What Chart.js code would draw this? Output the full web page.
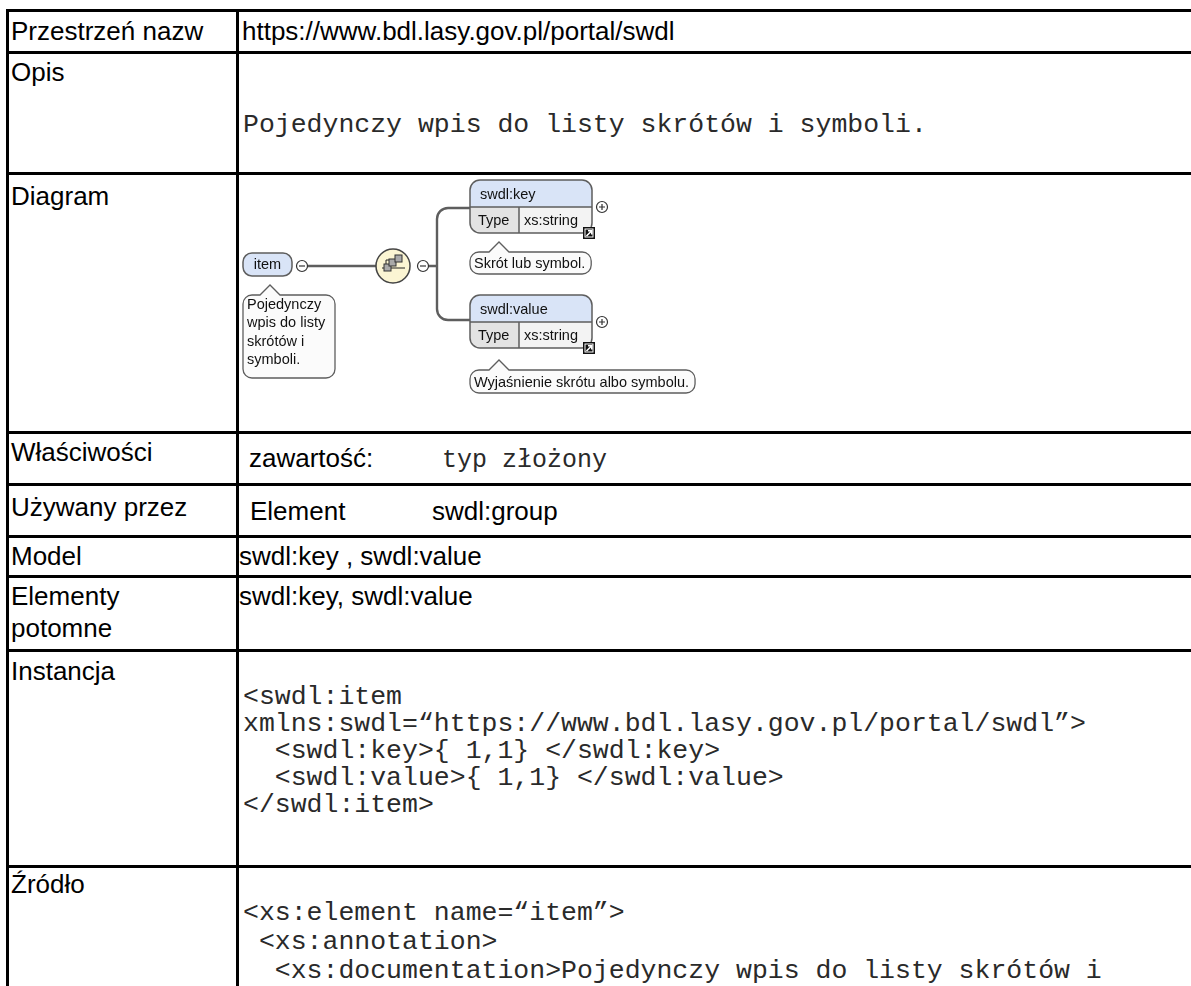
<!DOCTYPE html>
<html lang="pl">
<head>
<meta charset="utf-8">
<title>swdl:item</title>
<script src="https://cdn.jsdelivr.net/npm/chart.js@4.4.1/dist/chart.umd.min.js"></script>
<style>
  html, body { margin: 0; padding: 0; background: #fff; }
  body { width: 1191px; height: 986px; overflow: hidden; position: relative; }
  .hl, .vl { position: absolute; background: #000; }
  .t { position: absolute; white-space: pre; color: #000; margin: 0; }
  .sans { font-family: "Liberation Sans", Arial, sans-serif; font-size: 26px; line-height: 26px; }
  .mono { font-family: "Liberation Mono", "Courier New", monospace; font-size: 26.5px; line-height: 26.5px; color: #2a2a2a; }
  .mono25 { font-family: "Liberation Mono", "Courier New", monospace; font-size: 25px; line-height: 25px; color: #2a2a2a; }
  #diagram { position: absolute; left: 239px; top: 175px; }
</style>
</head>
<body>
<canvas id="diagram" width="700" height="256"></canvas>
<script>
// table grid (centre of each ruling, px)
const rowLines = [10, 52, 173, 432.5, 484, 536.5, 576.5, 650, 866.5];
const colLines = [7, 237.5];

// left column
const rowLabels = ['Przestrzeń nazw', 'Opis', 'Diagram', 'Właściwości', 'Używany przez',
    'Model', 'Elementy', 'potomne', 'Instancja', 'Źródło'];
const labelBaselines = [40, 81, 205, 461, 516, 565, 605, 637, 680, 893];

// right column: [x, baseline, style, text]
const cellTexts = [
    [242, 40, 'sans', 'https://www.bdl.lasy.gov.pl/portal/swdl'],
    [243, 132, 'mono', 'Pojedynczy wpis do listy skrótów i symboli.'],
    [249, 467, 'sans', 'zawartość:'],
    [442, 467, 'mono25', 'typ złożony'],
    [250, 520, 'sans', 'Element'],
    [432, 520, 'sans', 'swdl:group'],
    [239, 565, 'sans', 'swdl:key , swdl:value'],
    [239, 605, 'sans', 'swdl:key, swdl:value']
];
const instanceLines = [
    '<swdl:item',
    'xmlns:swdl=“https://www.bdl.lasy.gov.pl/portal/swdl”>',
    '  <swdl:key>{ 1,1} </swdl:key>',
    '  <swdl:value>{ 1,1} </swdl:value>',
    '</swdl:item>'
];
const sourceLines = [
    '<xs:element name=“item”>',
    ' <xs:annotation>',
    '  <xs:documentation>Pojedynczy wpis do listy skrótów i'
];

// diagram content
const nodeNames = ['item', 'swdl:key', 'swdl:value'];
const nodeTypes = ['', 'xs:string', 'xs:string'];
const nodeDocs = [
    ['Pojedynczy', 'wpis do listy', 'skrótów i', 'symboli.'],
    ['Skrót lub symbol.'],
    ['Wyjaśnienie skrótu albo symbolu.']
];

// distance from top of line box to baseline for each text style
const ascent = { sans: 22.0, mono: 20.3, mono25: 19.2 };

function put(x, baseline, style, text) {
    const d = document.createElement('div');
    d.className = 't ' + style;
    d.style.left = x + 'px';
    d.style.top = (baseline - ascent[style]) + 'px';
    d.textContent = text;
    document.body.appendChild(d);
}

// multi-line code block; lh = line pitch, first = baseline of first line
function putBlock(x, first, lh, lines) {
    const d = document.createElement('pre');
    d.className = 't mono';
    d.style.lineHeight = lh + 'px';
    d.style.left = x + 'px';
    d.style.top = (first - ((lh - 30.03) / 2 + 22.07)) + 'px';
    d.textContent = lines.join('\n');
    document.body.appendChild(d);
}

// rulings
rowLines.forEach(y => {
    const d = document.createElement('div');
    d.className = 'hl';
    d.style.left = '6px';
    d.style.width = '1200px';
    d.style.top = (y - 1.5) + 'px';
    d.style.height = '3px';
    document.body.appendChild(d);
});
colLines.forEach(x => {
    const d = document.createElement('div');
    d.className = 'vl';
    d.style.left = (x - 1.5) + 'px';
    d.style.width = '3px';
    d.style.top = (rowLines[0] - 1.5) + 'px';
    d.style.height = '1000px';
    document.body.appendChild(d);
});

rowLabels.forEach((txt, i) => put(11, labelBaselines[i], 'sans', txt));
cellTexts.forEach(c => put(c[0], c[1], c[2], c[3]));
putBlock(243, 705, 27, instanceLines);
putBlock(243, 921, 29, sourceLines);

// ---- diagram drawn on a chart canvas, page coordinates mapped by the scales ----
const LINE = '#5e5e5e';
const diagFont = '14.5px "Liberation Sans", Arial, sans-serif';

function rr(ctx, x, y, w, h, r) {
    ctx.beginPath();
    ctx.moveTo(x + r, y);
    ctx.arcTo(x + w, y, x + w, y + h, r);
    ctx.arcTo(x + w, y + h, x, y + h, r);
    ctx.arcTo(x, y + h, x, y, r);
    ctx.arcTo(x, y, x + w, y, r);
    ctx.closePath();
}

function toggle(ctx, cx, cy, plus) {
    ctx.beginPath();
    ctx.arc(cx, cy, 5.5, 0, Math.PI * 2);
    ctx.fillStyle = '#fff';
    ctx.fill();
    ctx.lineWidth = 1.2;
    ctx.strokeStyle = '#333';
    ctx.stroke();
    ctx.beginPath();
    ctx.moveTo(cx - 3, cy);
    ctx.lineTo(cx + 3, cy);
    if (plus) {
        ctx.moveTo(cx, cy - 3);
        ctx.lineTo(cx, cy + 3);
    }
    ctx.stroke();
}

function callout(ctx, x, y, w, h, nx, lines, lh) {
    const r = 9;
    ctx.beginPath();
    ctx.moveTo(x + r, y);
    ctx.lineTo(nx - 10, y);
    ctx.lineTo(nx, y - 10);
    ctx.lineTo(nx + 10, y);
    ctx.arcTo(x + w, y, x + w, y + h, r);
    ctx.arcTo(x + w, y + h, x, y + h, r);
    ctx.arcTo(x, y + h, x, y, r);
    ctx.arcTo(x, y, x + w, y, r);
    ctx.closePath();
    ctx.fillStyle = '#fbfbfb';
    ctx.fill();
    ctx.lineWidth = 1.3;
    ctx.strokeStyle = LINE;
    ctx.stroke();
    ctx.fillStyle = '#111';
    ctx.font = diagFont;
    ctx.textBaseline = 'middle';
    ctx.textAlign = 'left';
    lines.forEach((s, i) => ctx.fillText(s, x + 4, y + lh / 2 + 1 + i * lh));
}

function linkIcon(ctx, x, y) {
    ctx.fillStyle = '#111';
    ctx.fillRect(x, y, 12, 12);
    ctx.fillStyle = '#fff';
    ctx.fillRect(x + 1.5, y + 1.5, 9, 9);
    ctx.fillStyle = '#111';
    ctx.fillRect(x + 2.5, y + 2.5, 7, 7);
    ctx.strokeStyle = '#fff';
    ctx.lineWidth = 1.6;
    ctx.beginPath();
    ctx.moveTo(x + 3.5, y + 9);
    ctx.lineTo(x + 8.5, y + 4);
    ctx.moveTo(x + 5, y + 3.8);
    ctx.lineTo(x + 8.8, y + 3.8);
    ctx.lineTo(x + 8.8, y + 7.5);
    ctx.stroke();
}

function elementBox(ctx, x, y, w, name, type) {
    const hh = 27, th = 26, split = 49;
    rr(ctx, x, y, w, hh + th, 10);
    ctx.save();
    ctx.clip();
    ctx.fillStyle = '#d9e4f7';
    ctx.fillRect(x, y, w, hh);
    ctx.fillStyle = '#e3e3e3';
    ctx.fillRect(x, y + hh, split, th);
    ctx.fillStyle = '#f3f3f3';
    ctx.fillRect(x + split, y + hh, w - split, th);
    ctx.restore();
    ctx.lineWidth = 1.5;
    ctx.strokeStyle = LINE;
    rr(ctx, x, y, w, hh + th, 10);
    ctx.stroke();
    ctx.beginPath();
    ctx.moveTo(x, y + hh);
    ctx.lineTo(x + w, y + hh);
    ctx.moveTo(x + split, y + hh);
    ctx.lineTo(x + split, y + hh + th);
    ctx.stroke();
    ctx.fillStyle = '#111';
    ctx.font = diagFont;
    ctx.textBaseline = 'middle';
    ctx.textAlign = 'left';
    ctx.fillText(name, x + 10, y + hh / 2 + 1);
    ctx.fillText('Type', x + 8, y + hh + th / 2 + 1);
    ctx.fillText(type, x + split + 5, y + hh + th / 2 + 1);
    linkIcon(ctx, x + w - 9, y + hh + th - 6);
}

const diagramPlugin = {
    id: 'xsdDiagram',
    afterDraw(chart) {
        const ctx = chart.ctx;
        const sx = chart.scales.x, sy = chart.scales.y;
        const X = v => sx.getPixelForValue(v);
        const Y = v => sy.getPixelForValue(v);
        ctx.save();

        // root element
        const rootY = Y(266);
        rr(ctx, X(243), Y(253), 49, 23, 9);
        ctx.fillStyle = '#d9e4f7';
        ctx.fill();
        ctx.lineWidth = 1.5;
        ctx.strokeStyle = LINE;
        ctx.stroke();
        ctx.fillStyle = '#111';
        ctx.font = diagFont;
        ctx.textAlign = 'center';
        ctx.textBaseline = 'middle';
        ctx.fillText(nodeNames[0], X(267.5), Y(265));

        // connectors
        ctx.strokeStyle = LINE;
        ctx.lineWidth = 2.4;
        ctx.beginPath();
        ctx.moveTo(X(307), rootY);
        ctx.lineTo(X(376), rootY);
        ctx.moveTo(X(428), rootY);
        ctx.lineTo(X(437), rootY);
        ctx.moveTo(X(470), Y(208));
        ctx.arcTo(X(437), Y(208), X(437), Y(320), 11);
        ctx.arcTo(X(437), Y(320), X(470), Y(320), 11);
        ctx.lineTo(X(470), Y(320));
        ctx.stroke();

        toggle(ctx, X(302), rootY, false);

        // sequence compositor
        ctx.beginPath();
        ctx.arc(X(393), rootY, 17, 0, Math.PI * 2);
        ctx.fillStyle = '#fbf5d3';
        ctx.fill();
        ctx.lineWidth = 1.5;
        ctx.strokeStyle = '#444';
        ctx.stroke();
        ctx.strokeStyle = '#222';
        ctx.lineWidth = 1;
        ctx.beginPath();
        ctx.moveTo(X(382), rootY + 2);
        ctx.lineTo(X(405), rootY + 2);
        ctx.moveTo(X(386), rootY + 2);
        ctx.lineTo(X(386), rootY - 6);
        ctx.lineTo(X(398), rootY - 6);
        ctx.stroke();
        [[384, 264], [389, 259], [395, 255]].forEach(p => {
            ctx.fillStyle = '#a9a9a9';
            ctx.fillRect(X(p[0]), Y(p[1]), 7, 7);
            ctx.strokeStyle = '#333';
            ctx.strokeRect(X(p[0]), Y(p[1]), 7, 7);
        });
        toggle(ctx, X(423), rootY, false);

        // child elements
        elementBox(ctx, X(470), Y(180), 122, nodeNames[1], nodeTypes[1]);
        elementBox(ctx, X(470), Y(295), 122, nodeNames[2], nodeTypes[2]);
        toggle(ctx, X(602), Y(207), true);
        toggle(ctx, X(602), Y(322), true);

        // documentation callouts
        ctx.font = diagFont;
        callout(ctx, X(243), Y(295), 92, 83, X(270), nodeDocs[0], 18.3);
        ctx.font = diagFont;
        const w1 = ctx.measureText(nodeDocs[1][0]).width + 10;
        callout(ctx, X(470), Y(252), w1, 22, X(499), nodeDocs[1], 22);
        ctx.font = diagFont;
        const w2 = ctx.measureText(nodeDocs[2][0]).width + 10;
        callout(ctx, X(470), Y(370), w2, 23, X(499), nodeDocs[2], 23);

        ctx.restore();
    }
};

new Chart(document.getElementById('diagram'), {
    type: 'scatter',
    data: {
        datasets: [{
            data: [{ x: 267.5, y: 265 }, { x: 531, y: 207 }, { x: 531, y: 322 }],
            pointRadius: 0
        }]
    },
    options: {
        responsive: false,
        devicePixelRatio: 1,
        animation: false,
        events: [],
        layout: { padding: 0 },
        plugins: { legend: { display: false }, tooltip: { enabled: false } },
        scales: {
            x: { type: 'linear', min: 239, max: 939, display: false },
            y: { type: 'linear', min: 175, max: 431, reverse: true, display: false }
        }
    },
    plugins: [diagramPlugin]
});
</script>
</body>
</html>
